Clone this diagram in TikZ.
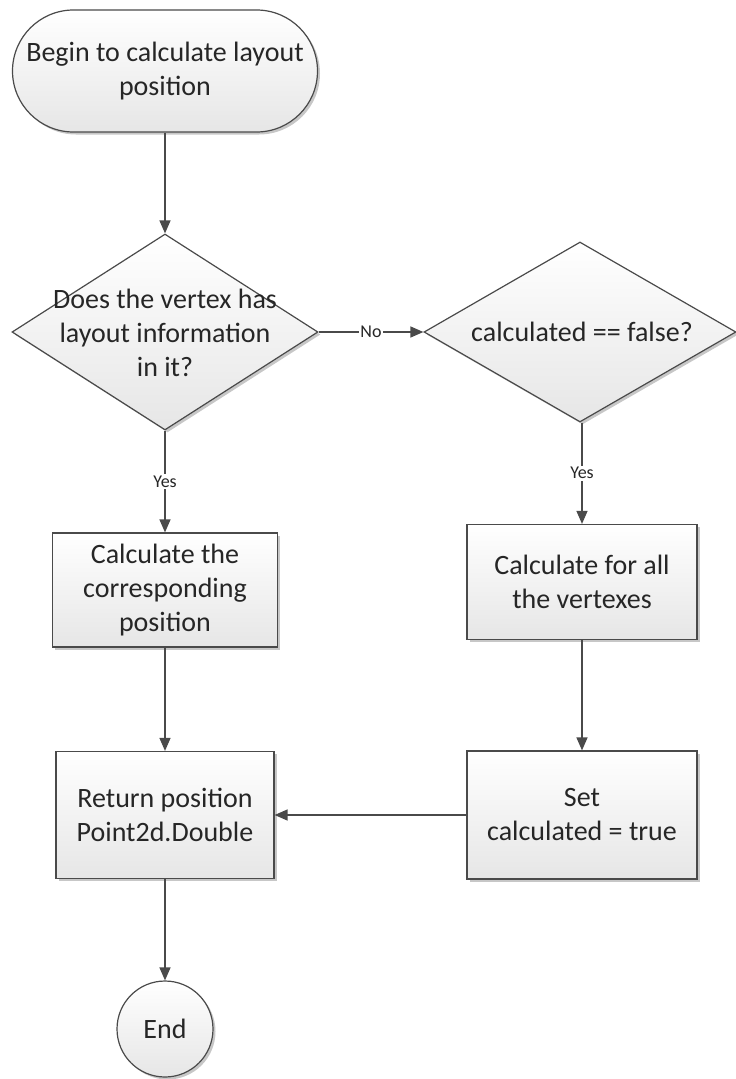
\documentclass[tikz,border=0pt]{standalone}
\usepackage{fontspec}
\setmainfont{Carlito}
\usetikzlibrary{shapes.geometric,arrows.meta,shadows}
\definecolor{edgec}{HTML}{4A4A4A}
\definecolor{txtc}{HTML}{262626}
\definecolor{fillbot}{HTML}{E6E6E6}
\tikzset{
  base/.style={draw=edgec, line width=1.2pt, top color=white, bottom color=fillbot,
    drop shadow={shadow xshift=2.5pt, shadow yshift=-2.5pt, opacity=0.22, fill=black},
    inner sep=0pt, text=txtc, font=\fontsize{28}{34}\selectfont, align=center},
  terminal/.style={base, rectangle, rounded corners=61pt, minimum width=305pt, minimum height=122pt},
  procbox/.style={base, rectangle},
  decision/.style={base, diamond, aspect=1.6},
  endcircle/.style={base, circle, minimum size=96pt},
  dtext/.style={text=txtc, font=\fontsize{28}{34}\selectfont, align=center, inner sep=0pt},
  conn/.style={draw=edgec, line width=1.3pt, -{Triangle[width=11pt,length=13pt]}},
  lbl/.style={fill=white, text=txtc, font=\fontsize{18}{21}\selectfont, inner sep=1.5pt}
}
\begin{document}
\begin{tikzpicture}[x=1pt,y=-1pt]
\useasboundingbox (0,0) rectangle (736,1079);
% nodes
\node[terminal] (start) at (165,71) {Begin to calculate layout\\position};
\node[decision, minimum width=306pt, minimum height=196pt] (d1) at (165,332) {};
\node[dtext] (d1t) at (165,333) {Does the vertex has\\layout information\\in it?};
\node[decision, minimum width=312pt, minimum height=180pt] (d2) at (580,332) {};
\node[dtext] (d2t) at (582,332) {calculated == false?};
\node[procbox, minimum width=225pt, minimum height=114pt] (calc1) at (165,590) {Calculate the\\corresponding\\position};
\node[procbox, minimum width=230pt, minimum height=115pt] (calc2) at (582,582) {Calculate for all\\the vertexes};
\node[procbox, minimum width=230pt, minimum height=128pt] (setc) at (582,815) {Set\\calculated = true};
\node[procbox, minimum width=218pt, minimum height=127pt] (ret) at (165,815) {Return position\\Point2d.Double};
\node[endcircle] (endn) at (165,1029) {End};
% connectors
\draw[conn] (start) -- (d1);
\draw[conn] (d1.east) -- node[lbl] {No} (d2.west);
\draw[conn] (d1.south) -- node[lbl] {Yes} (calc1.north);
\draw[conn] (d2.south -| calc2.north) -- node[lbl] {Yes} (calc2.north);
\draw[conn] (calc2) -- (setc);
\draw[conn] (calc1) -- (ret);
\draw[conn] (setc) -- (ret);
\draw[conn] (ret) -- (endn);
\end{tikzpicture}
\end{document}
